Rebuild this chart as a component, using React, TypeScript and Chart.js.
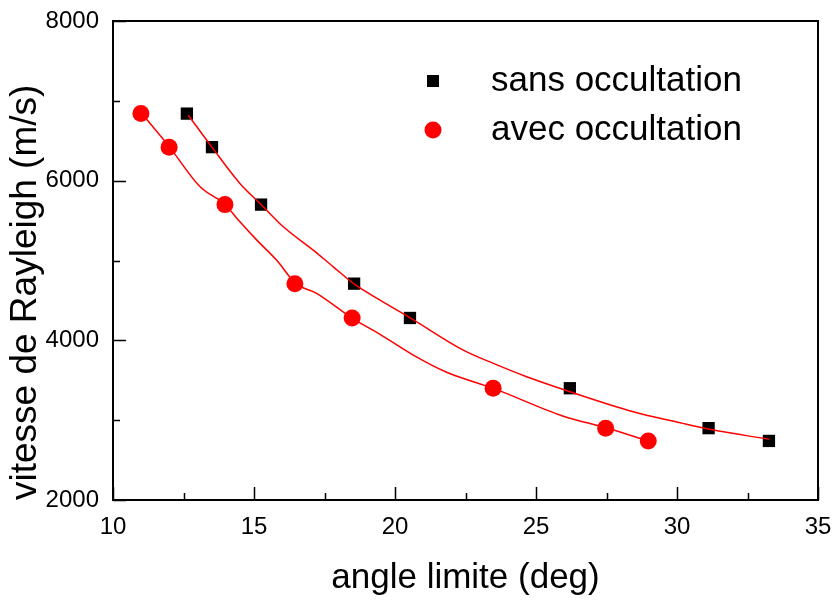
import React, { useEffect, useRef } from "react";
import { Chart, registerables } from "chart.js";

Chart.register(...registerables);

// ---- data ----
const angleSans = [12.62, 13.51, 15.25, 18.55, 20.53, 26.2, 31.12, 33.26];
const vitesseSans = [6840, 6420, 5700, 4710, 4280, 3400, 2900, 2740];
const angleAvec = [10.99, 11.99, 13.97, 16.45, 18.48, 23.48, 27.47, 28.98];
const vitesseAvec = [6840, 6420, 5700, 4710, 4280, 3400, 2900, 2740];

// fitted curves (sampled along the drawn curves)
const fitSansX = [12.67, 13.5, 14.5, 15.25, 16.04, 17.1, 17.81, 18.56, 19.47, 20.57, 22.42, 23.49, 24.67, 26.21, 28.45, 30.11, 31.17, 33.27];
const fitSansY = [6820, 6423, 5965, 5702, 5422, 5130, 4921, 4704, 4504, 4275, 3878, 3711, 3544, 3356, 3106, 2968, 2885, 2760];
const fitAvecX = [11.02, 12.0, 13.09, 13.97, 14.5, 15.1, 15.8, 16.48, 17.22, 18.49, 19.47, 20.65, 21.83, 23.49, 25.97, 27.48, 28.98];
const fitAvecY = [6841, 6423, 5923, 5702, 5484, 5255, 5005, 4713, 4588, 4275, 4075, 3815, 3600, 3398, 3050, 2905, 2739];

const xTicks = [10, 15, 20, 25, 30, 35];
const yTicks = [2000, 4000, 6000, 8000];
const seriesLabels = ["sans occultation", "avec occultation"];
const xTitle = "angle limite (deg)";
const yTitle = "vitesse de Rayleigh (m/s)";

const FONT = "'Liberation Sans', Arial, Helvetica, sans-serif";

const toPts = (xs: number[], ys: number[]) => xs.map((x, i) => ({ x, y: ys[i] }));

const decorPlugin = {
  id: "decor",
  beforeDatasetsDraw(chart: any) {
    const { ctx, chartArea: a, scales } = chart;
    const xs = scales.x;
    const ys = scales.y;
    ctx.save();
    ctx.strokeStyle = "#000";
    ctx.lineWidth = 2;
    ctx.strokeRect(a.left, a.top, a.right - a.left, a.bottom - a.top);
    ctx.lineWidth = 1.5;
    ctx.beginPath();
    for (let i = 0; i < xTicks.length; i++) {
      const v = xTicks[i];
      const px = Math.round(xs.getPixelForValue(v)) + 0.5;
      ctx.moveTo(px, a.bottom);
      ctx.lineTo(px, a.bottom - 13);
      if (i < xTicks.length - 1) {
        const m = (v + xTicks[i + 1]) / 2;
        const pm = Math.round(xs.getPixelForValue(m)) + 0.5;
        ctx.moveTo(pm, a.bottom);
        ctx.lineTo(pm, a.bottom - 7);
      }
    }
    for (let i = 0; i < yTicks.length; i++) {
      const v = yTicks[i];
      const py = Math.round(ys.getPixelForValue(v)) + 0.5;
      ctx.moveTo(a.left, py);
      ctx.lineTo(a.left + 13, py);
      if (i < yTicks.length - 1) {
        const m = (v + yTicks[i + 1]) / 2;
        const pm = Math.round(ys.getPixelForValue(m)) + 0.5;
        ctx.moveTo(a.left, pm);
        ctx.lineTo(a.left + 7, pm);
      }
    }
    ctx.stroke();
    ctx.restore();
  },
  afterDatasetsDraw(chart: any) {
    const { ctx } = chart;
    ctx.save();
    const mx = 433;
    const tx = 491;
    const rows = [81, 130];
    ctx.fillStyle = "#000";
    ctx.fillRect(mx - 6, rows[0] - 6, 12, 12);
    ctx.fillStyle = "#ff0000";
    ctx.beginPath();
    ctx.arc(mx, rows[1], 8.5, 0, Math.PI * 2);
    ctx.fill();
    ctx.fillStyle = "#000";
    ctx.font = `35px ${FONT}`;
    ctx.textBaseline = "middle";
    ctx.textAlign = "left";
    ctx.fillText(seriesLabels[0], tx, rows[0]);
    ctx.fillText(seriesLabels[1], tx, rows[1]);
    ctx.restore();
  },
};

export default function App() {
  const ref = useRef<HTMLCanvasElement | null>(null);
  useEffect(() => {
    if (!ref.current) return;
    const chart = new Chart(ref.current, {
      type: "scatter",
      data: {
        datasets: [
          {
            label: "fit sans",
            data: toPts(fitSansX, fitSansY),
            showLine: true,
            borderColor: "#ff0000",
            borderWidth: 1.5,
            pointRadius: 0,
            cubicInterpolationMode: "monotone",
            order: 0,
          } as any,
          {
            label: "fit avec",
            data: toPts(fitAvecX, fitAvecY),
            showLine: true,
            borderColor: "#ff0000",
            borderWidth: 1.5,
            pointRadius: 0,
            cubicInterpolationMode: "monotone",
            order: 0,
          } as any,
          {
            label: seriesLabels[0],
            data: toPts(angleSans, vitesseSans),
            pointStyle: "rect",
            pointRadius: 8.7,
            pointBackgroundColor: "#000",
            pointBorderWidth: 0,
            showLine: false,
            order: 1,
          } as any,
          {
            label: seriesLabels[1],
            data: toPts(angleAvec, vitesseAvec),
            pointStyle: "circle",
            pointRadius: 8.5,
            pointBackgroundColor: "#ff0000",
            pointBorderWidth: 0,
            showLine: false,
            order: 1,
          } as any,
        ],
      },
      options: {
        responsive: false,
        animation: false,
        devicePixelRatio: 1,
        layout: { padding: { top: 21, right: 18, bottom: 0, left: 0 } },
        plugins: { legend: { display: false }, tooltip: { enabled: false } },
        scales: {
          x: {
            type: "linear",
            min: 10,
            max: 35,
            afterBuildTicks: (s: any) => {
              s.ticks = xTicks.map((v) => ({ value: v }));
            },
            afterFit: (s: any) => {
              s.height = 101;
              s.paddingLeft = 0;
              s.paddingRight = 0;
            },
            grid: { display: false, drawTicks: false },
            border: { display: false },
            ticks: {
              color: "#000",
              font: { family: FONT, size: 24 },
              padding: 13,
              maxRotation: 0,
              autoSkip: false,
              callback: (v: any) => String(v),
            },
            title: {
              display: true,
              text: xTitle,
              color: "#000",
              font: { family: FONT, size: 35 },
              padding: { top: 0, bottom: 2 },
            },
          },
          y: {
            type: "linear",
            min: 2000,
            max: 8000,
            afterBuildTicks: (s: any) => {
              s.ticks = yTicks.map((v) => ({ value: v }));
            },
            afterFit: (s: any) => {
              s.width = 113;
              s.paddingTop = 0;
              s.paddingBottom = 0;
            },
            grid: { display: false, drawTicks: false },
            border: { display: false },
            ticks: {
              color: "#000",
              font: { family: FONT, size: 24 },
              padding: 14,
              autoSkip: false,
              callback: (v: any) => String(v),
            },
            title: {
              display: true,
              text: yTitle,
              align: "start",
              color: "#000",
              font: { family: FONT, size: 37 },
              padding: { top: 4, bottom: 0 },
            },
          },
        },
      },
      plugins: [decorPlugin],
    });
    return () => chart.destroy();
  }, []);
  return (
    <div style={{ position: "absolute", left: 0, top: 0, width: 836, height: 601, background: "#fff" }}>
      <canvas ref={ref} width={836} height={601} style={{ width: 836, height: 601, display: "block" }} />
    </div>
  );
}
